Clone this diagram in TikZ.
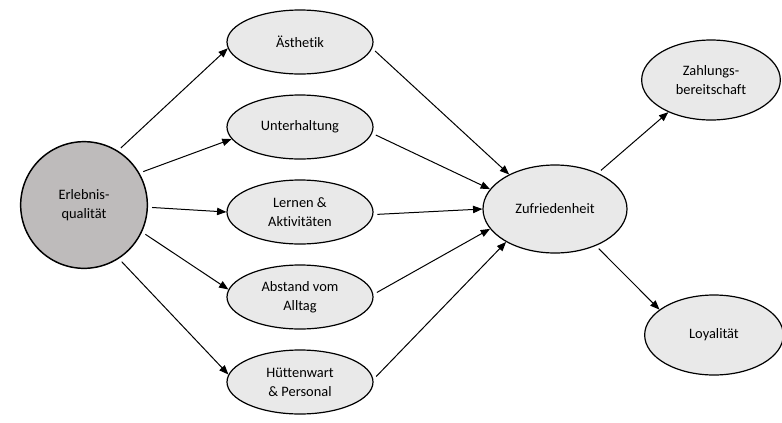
\documentclass[tikz,border=0pt]{standalone}
\usepackage{fontspec}
\setmainfont{Carlito}[Ligatures=NoCommon]
\usepackage{tikz}
\usetikzlibrary{positioning, shapes.geometric, arrows.meta}
\definecolor{circlegray}{RGB}{190,187,187}
\definecolor{ellgray}{RGB}{233,233,233}
\tikzstyle{factor} = [ellipse, draw=black, line width=0.9pt, fill=ellgray, minimum width=109.5pt, minimum height=48pt, inner sep=0pt, align=center, font=\fontsize{10.8}{14.5}\selectfont]
\tikzstyle{outcome} = [ellipse, draw=black, line width=0.9pt, fill=ellgray, minimum width=104pt, minimum height=60pt, inner sep=0pt, align=center, font=\fontsize{10.8}{14.5}\selectfont]
\tikzstyle{arrow} = [line width=0.75pt, -{Triangle[length=7pt,width=5.5pt]}, shorten <=3pt]

\begin{document}
\begin{tikzpicture}[x=0.75pt, y=-0.75pt, node distance=63.75pt]

    % Frame
    \useasboundingbox (0,0) rectangle (782,422);

    % Nodes
    \node (erleb) [circle, draw=black, line width=1.1pt, fill=circlegray, minimum size=95pt, inner sep=0pt, align=center, font=\fontsize{10.8}{14.5}\selectfont] at (84,205) {Erlebnis-\\qualität};
    \node (aesth) [factor] at (300,42) {Ästhetik};
    \node (unter) [factor, below of=aesth] {Unterhaltung};
    \node (lernen) [factor, below of=unter] {Lernen \&\\Aktivitäten};
    \node (abstand) [factor, below of=lernen] {Abstand vom\\Alltag};
    \node (huette) [factor, below of=abstand] {Hüttenwart\\\& Personal};
    \node (zufr) [ellipse, draw=black, line width=0.9pt, fill=ellgray, minimum width=108pt, minimum height=66pt, inner sep=0pt, font=\fontsize{10.8}{14.5}\selectfont] at (555,209) {Zufriedenheit};
    \node (zahl) [outcome] at (711,80) {Zahlungs-\\bereitschaft};
    \node (loyal) [outcome] at (714,335) {Loyalität};

    % Arrows
    \draw [arrow] (erleb.58) -- (aesth.185);
    \draw [arrow] (erleb.30) -- (unter.190);
    \draw [arrow] (erleb.-2) -- (lernen.west);
    \draw [arrow] (erleb.-25) -- (abstand.174);
    \draw [arrow] (erleb.-57) -- (huette.174);
    \draw [arrow] (aesth.-5) -- (zufr.143);
    \draw [arrow] (unter.-5) -- (zufr.163);
    \draw [arrow] (lernen.-2) -- (zufr.180);
    \draw [arrow] (abstand.2) -- (zufr.197);
    \draw [arrow] (huette.2) -- (zufr.214);
    \draw [arrow] (zufr.40) -- (zahl.217);
    \draw [arrow] (zufr.-42) -- (loyal.155);

\end{tikzpicture}
\end{document}
